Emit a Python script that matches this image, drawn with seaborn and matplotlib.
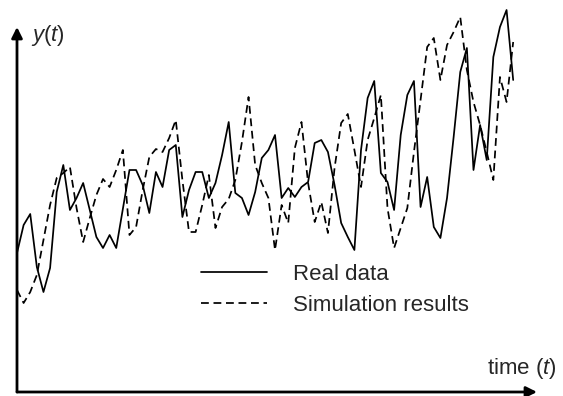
import pandas as pd
import seaborn as sns
import matplotlib.pyplot as plt

# heights (arbitrary units, 0 = time axis)
real_data = [139, 167, 178, 125, 100, 124, 200, 227, 182, 194,
             209, 182, 155, 144, 157, 144, 183, 222, 222, 207,
             179, 220, 205, 242, 247, 175, 202, 220, 220, 194,
             209, 237, 270, 199, 194, 177, 200, 234, 242, 257,
             194, 204, 195, 205, 210, 249, 252, 240, 207, 169,
             155, 142, 242, 294, 311, 219, 210, 182, 257, 297,
             311, 185, 215, 165, 154, 194, 255, 320, 344, 222,
             267, 232, 335, 365, 382, 312]
simulation = [102, 89, 100, 117, 152, 187, 214, 219, 225, 184,
              150, 174, 197, 213, 205, 222, 242, 157, 165, 202,
              235, 243, 240, 254, 272, 212, 160, 160, 187, 217,
              164, 185, 193, 212, 250, 295, 227, 209, 194, 142,
              187, 169, 244, 270, 209, 170, 190, 159, 224, 269,
              278, 242, 205, 252, 274, 297, 184, 144, 164, 184,
              240, 292, 345, 354, 312, 347, 360, 375, 322, 290,
              267, 240, 212, 315, 290, 350]
series_names = ["Real data", "Simulation results"]

t = list(range(len(real_data)))
df = pd.DataFrame({
    "t": t + t,
    "value": real_data + simulation,
    "series": [series_names[0]] * len(t) + [series_names[1]] * len(t),
})

sns.set_theme(style="white")
plt.rcParams['font.family'] = ['Liberation Sans', 'DejaVu Sans']
plt.rcParams['mathtext.fontset'] = 'custom'
plt.rcParams['mathtext.rm'] = 'Liberation Sans'
plt.rcParams['mathtext.it'] = 'Liberation Sans:italic'

W, H = 563, 396
fig = plt.figure(figsize=(W / 100, H / 100), dpi=100)
ax = fig.add_axes([17 / W, 4 / H, 520 / W, 365 / H])

sns.lineplot(data=df, x="t", y="value", style="series", color="black",
             dashes={series_names[0]: "", series_names[1]: (4.5, 2.7)},
             linewidth=1.25, ax=ax)
for line in ax.lines:
    line.set_clip_on(False)

ax.set_xlim(0, 78.6)
ax.set_ylim(0, 365)
ax.set_xticks([])
ax.set_yticks([])
ax.set_xlabel("")
ax.set_ylabel("")
for s in ax.spines.values():
    s.set_visible(False)

# axes drawn as arrows
arrow = dict(arrowstyle="-|>", color="black", lw=2, mutation_scale=16,
             shrinkA=0, shrinkB=0)
ax.annotate("", xy=(0, 1), xytext=(0, 0), xycoords="axes fraction",
            arrowprops=arrow, annotation_clip=False)
ax.annotate("", xy=(1, 0), xytext=(0, 0), xycoords="axes fraction",
            arrowprops=arrow, annotation_clip=False)

handles, labels = ax.get_legend_handles_labels()
ax.legend(handles, labels, loc="upper left", frameon=False, fontsize=16,
          handlelength=2.95, handletextpad=1.2, labelspacing=0.45,
          borderpad=0, borderaxespad=0,
          bbox_to_anchor=(201 / W, 1 - 264 / H), bbox_transform=fig.transFigure)

fig.text(31 / W, 1 - 41 / H, r"$\it{y}$($\it{t}$)", fontsize=16,
         ha="left", va="baseline")
fig.text(557 / W, 1 - 374 / H, r"time ($\it{t}$)", fontsize=16,
         ha="right", va="baseline")

fig.savefig("out.png", dpi=100)
